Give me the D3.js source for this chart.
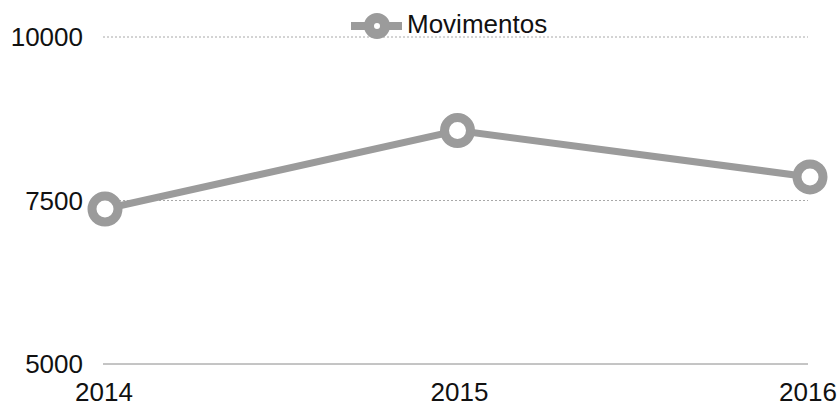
<!DOCTYPE html>
<html>
<head>
<meta charset="utf-8">
<script src="https://cdn.jsdelivr.net/npm/d3@7"></script>
<style>
  body { margin: 0; background: #fff; }
  text { font-family: "Liberation Sans", Arial, sans-serif; fill: #111; }
</style>
</head>
<body>
<svg id="chart"></svg>
<script>
// values
let years = ["2014", "2015", "2016"];
let movimentos = [7370, 8570, 7860];
let y_ticks = [5000, 7500, 10000];
let series_name = "Movimentos";

let width = 839, height = 407;
let line_color = "#9b9b9b";

let svg = d3.select("#chart").attr("width", width).attr("height", height);

let x = d3.scalePoint().domain(years).range([105, 810]);
let y = d3.scaleLinear().domain([5000, 10000]).range([364, 37]);

// gridlines
svg.append("g")
  .selectAll("line")
  .data(y_ticks)
  .join("line")
  .attr("x1", 103)
  .attr("x2", 808)
  .attr("y1", d => y(d))
  .attr("y2", d => y(d))
  .attr("stroke", d => d == 5000 ? "#8a8a8a" : "#a8a8a8")
  .attr("stroke-width", 1)
  .attr("stroke-dasharray", d => d == 5000 ? null : "2,2");

// y labels
svg.append("g")
  .selectAll("text")
  .data(y_ticks)
  .join("text")
  .attr("x", 83)
  .attr("y", d => y(d) + 9)
  .attr("text-anchor", "end")
  .style("font-size", "26px")
  .text(d => d);

// x labels
svg.append("g")
  .selectAll("text")
  .data(years)
  .join("text")
  .attr("x", (d, i) => x(d) + [-1, 2, -2][i])
  .attr("y", 401)
  .attr("text-anchor", "middle")
  .style("font-size", "26px")
  .text(d => d);

let pts = years.map((yr, i) => [x(yr), y(movimentos[i])]);

svg.append("path")
  .attr("d", d3.line()(pts))
  .attr("fill", "none")
  .attr("stroke", line_color)
  .attr("stroke-width", 7);

svg.append("g")
  .selectAll("circle")
  .data(pts)
  .join("circle")
  .attr("cx", d => d[0])
  .attr("cy", d => d[1])
  .attr("r", 13)
  .attr("fill", "#fff")
  .attr("stroke", line_color)
  .attr("stroke-width", 9);

// legend
let legend = svg.append("g");
legend.append("line")
  .attr("x1", 351).attr("x2", 402)
  .attr("y1", 26).attr("y2", 26)
  .attr("stroke", line_color)
  .attr("stroke-width", 8);
legend.append("circle")
  .attr("cx", 377).attr("cy", 26)
  .attr("r", 8)
  .attr("fill", "#fff")
  .attr("stroke", line_color)
  .attr("stroke-width", 10);
legend.append("text")
  .attr("x", 407)
  .attr("y", 33)
  .style("font-size", "26px")
  .text(series_name);
</script>
</body>
</html>
